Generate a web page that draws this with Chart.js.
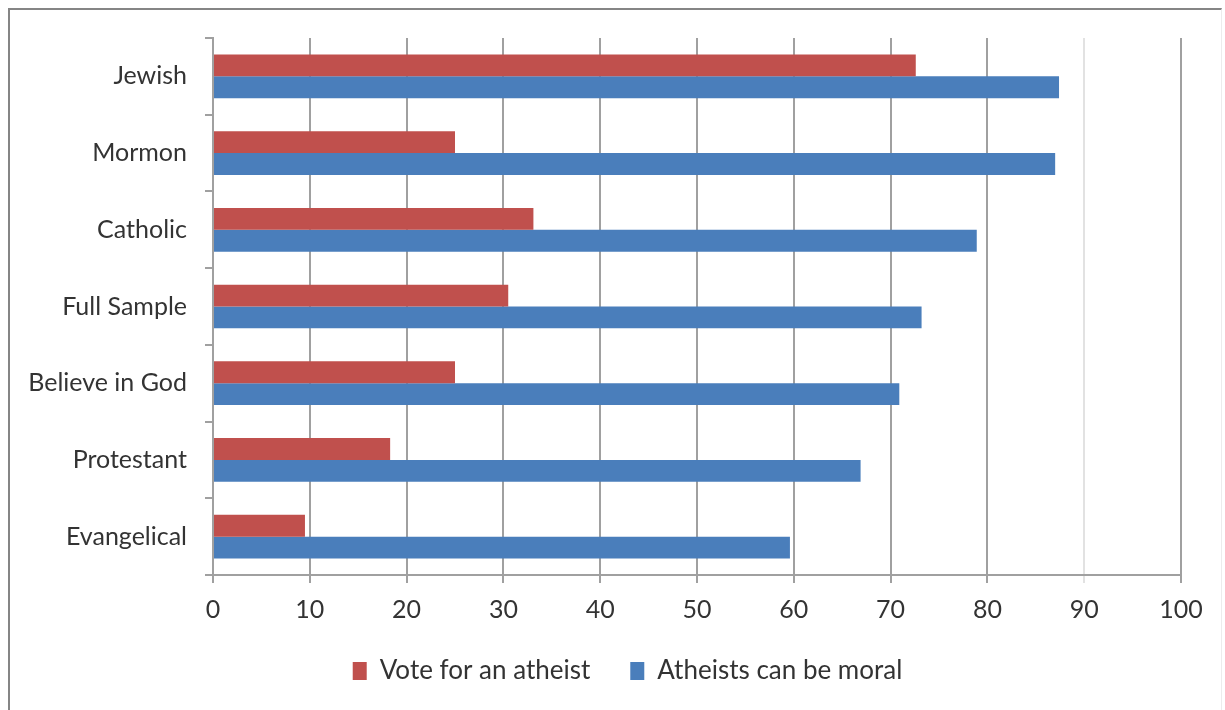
<!DOCTYPE html>
<html>
<head>
<meta charset="utf-8">
<script src="https://cdn.jsdelivr.net/npm/chart.js@4/dist/chart.umd.min.js"></script>
<style>
  html, body { margin: 0; padding: 0; background: #fff; }
  #wrap { position: absolute; left: 0; top: 0; width: 1225px; height: 710px; }
  #frame { position: absolute; left: 8px; top: 8px; width: 1214px; height: 702px;
           border-top: 2px solid #858585; border-left: 2px solid #858585; border-right: 1px solid #ececec; box-sizing: border-box; }
  canvas { position: absolute; left: 0; top: 0; }
</style>
</head>
<body>
<div id="wrap">
  <div id="frame"></div>
  <canvas id="c" width="1225" height="710"></canvas>
</div>
<script>
const categories = ["Jewish", "Mormon", "Catholic", "Full Sample", "Believe in God", "Protestant", "Evangelical"];
const voteForAtheist = [72.6, 25.0, 33.1, 30.5, 25.0, 18.3, 9.5];
const atheistsMoral = [87.4, 87.0, 78.9, 73.2, 70.9, 66.9, 59.6];
const seriesNames = ["Vote for an atheist", "Atheists can be moral"];
const xTicks = [0, 10, 20, 30, 40, 50, 60, 70, 80, 90, 100];

const FONT = "Lato, 'Open Sans', sans-serif";
const TEXT = "#333333";
const GRID = "#a0a0a0";

// shift the legend so it is centred under the whole frame rather than left+plot area
const legendShift = {
  id: "legendShift",
  afterLayout(chart) {
    const lg = chart.legend;
    if (lg) { lg.left += 37; lg.right += 37; }
  }
};

new Chart(document.getElementById("c"), {
  type: "bar",
  data: {
    labels: categories,
    datasets: [
      { label: seriesNames[0], data: voteForAtheist, backgroundColor: "#C0504D", borderWidth: 0 },
      { label: seriesNames[1], data: atheistsMoral, backgroundColor: "#4A7EBB", borderWidth: 0 }
    ]
  },
  plugins: [legendShift],
  options: {
    indexAxis: "y",
    responsive: false,
    animation: false,
    devicePixelRatio: 1,
    layout: { padding: { left: 0, right: 44, top: 38, bottom: 16 } },
    datasets: { bar: { categoryPercentage: 0.57, barPercentage: 1.0 } },
    scales: {
      x: {
        min: 0, max: 100,
        afterBuildTicks: (s) => { s.ticks = xTicks.map(v => ({ value: v })); },
        grid: {
          color: (ctx) => (ctx.tick && ctx.tick.value === 90) ? "#e2e2e2" : GRID,
          lineWidth: 2,
          tickLength: 8,
          drawTicks: true
        },
        border: { display: true, color: GRID, width: 2 },
        ticks: { color: TEXT, font: { family: FONT, size: 25 }, padding: 12 },
        afterFit: (s) => { s.height = 43; }
      },
      y: {
        offset: true,
        grid: { offset: true, drawOnChartArea: false, color: GRID, lineWidth: 2, tickLength: 8 },
        border: { display: true, color: GRID, width: 2 },
        ticks: { color: TEXT, font: { family: FONT, size: 25 }, padding: 18 },
        afterFit: (s) => { s.width = 213; }
      }
    },
    plugins: {
      legend: {
        position: "bottom",
        labels: { color: TEXT, font: { family: FONT, size: 26 }, boxWidth: 14, boxHeight: 18, padding: 40 }
      },
      tooltip: { enabled: false }
    }
  }
});
</script>
</body>
</html>
